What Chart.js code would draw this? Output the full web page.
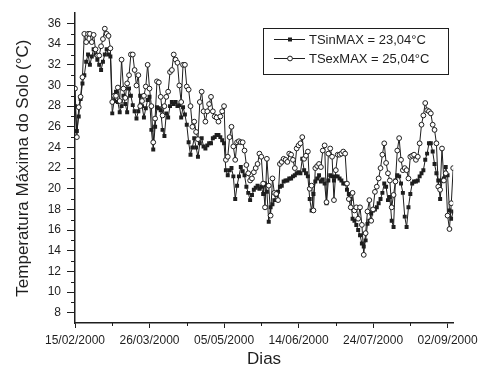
<!DOCTYPE html>
<html>
<head>
<meta charset="utf-8">
<script src="https://cdn.jsdelivr.net/npm/chart.js@4.4.1/dist/chart.umd.min.js"></script>
<style>
  html, body { margin: 0; padding: 0; background: #fff; }
</style>
</head>
<body>
<canvas id="graphic" width="483" height="368"></canvas>
<script>
  // axis ticks (day 0 = 15/02/2000)
  const tickDays = [0, 40, 80, 120, 160, 200];
  const tickLabels = ["15/02/2000", "26/03/2000", "05/05/2000", "14/06/2000", "24/07/2000", "02/09/2000"];
  const minorDays = [20, 60, 100, 140, 180];
  const yTicks = [8, 10, 12, 14, 16, 18, 20, 22, 24, 26, 28, 30, 32, 34, 36];

  const seriesNames = ["TSinMAX = 23,04°C", "TSexMAX = 25,04°C"];

  // daily max soil temperature, one value per day
  const tsinMax = [
    28.0, 25.6, 27.0, 28.7, 30.2, 31.0, 32.3, 33.0, 32.0, 32.8,
    33.5, 33.0, 32.5, 32.0, 31.5, 32.3, 33.0, 33.5, 33.0, 32.8,
    27.3, 28.5, 29.4, 28.4, 27.4, 28.0, 29.0, 28.2, 27.4, 29.7,
    29.0, 28.1, 27.5, 26.8, 27.5, 29.0, 28.0, 26.9, 27.8, 28.6,
    28.9, 25.7, 23.8, 26.0, 27.9, 27.8, 27.6, 25.7, 25.1, 27.3,
    26.9, 28.0, 28.4, 28.2, 28.4, 28.0, 28.1, 26.9, 27.9, 27.2,
    26.2, 24.5, 23.3, 24.0, 24.9, 24.0, 23.1, 24.4, 24.9, 24.1,
    23.9, 24.2, 24.4, 24.4, 24.9, 25.0, 25.2, 25.2, 25.0, 24.7,
    24.4, 21.8, 21.3, 21.8, 22.0, 21.2, 19.0, 20.3, 21.2, 22.1,
    21.7, 21.3, 20.2, 19.6, 18.9, 19.4, 19.9, 20.1, 20.3, 20.0,
    20.2, 19.5, 20.5, 19.7, 16.8, 18.2, 18.5, 18.9, 19.4, 19.7,
    20.2, 20.3, 20.7, 20.8, 20.8, 21.0, 21.0, 21.2, 21.3, 21.5,
    21.6, 21.5, 22.9, 21.8, 21.5, 21.2, 19.0, 17.9, 19.5, 20.7,
    21.0, 21.3, 20.7, 20.9, 20.5, 18.6, 20.8, 21.3, 21.2, 20.8,
    21.2, 21.2, 21.0, 20.8, 20.5, 20.5, 19.9, 19.5, 19.0, 17.1,
    16.9, 16.5, 16.0, 15.5, 14.7, 14.4, 15.0, 16.6, 16.9, 17.6,
    17.9, 18.0, 18.2, 18.6, 19.0, 19.6, 20.5, 20.2, 18.9, 19.2,
    16.9, 16.3, 20.8, 21.3, 21.2, 20.5, 19.6, 17.3, 16.3, 18.2,
    19.5, 20.5, 20.7, 20.7, 20.8, 21.2, 21.5, 21.8, 22.8, 23.4,
    24.4, 24.4, 23.6, 22.4, 21.5, 20.8, 19.0, 20.8, 21.0, 22.1,
    21.3, 17.9, 17.1, 17.8
  ];
  const tsexMax = [
    29.7, 25.0, 27.9, 28.9, 30.8, 35.0, 34.2, 35.0, 35.0, 34.2,
    34.9, 33.5, 32.9, 32.9, 33.8, 34.5, 35.5, 35.0, 34.8, 33.6,
    28.4, 29.0, 29.0, 29.8, 28.5, 32.5, 29.7, 28.8, 30.2, 31.0,
    33.0, 33.0, 31.5, 30.0, 31.0, 28.0, 28.5, 29.0, 29.9, 32.0,
    29.7, 28.0, 24.5, 26.8, 30.4, 30.3, 28.9, 27.1, 28.0, 28.9,
    29.4, 31.3, 31.5, 33.0, 32.5, 32.2, 30.0, 28.4, 32.0, 32.0,
    29.9, 29.6, 28.0, 26.0, 26.5, 25.5, 24.8, 28.4, 29.4, 27.5,
    26.5, 27.5, 28.2, 28.9, 27.5, 27.0, 26.9, 26.5, 27.0, 27.5,
    28.0, 22.8, 23.1, 25.0, 26.0, 24.1, 22.8, 24.5, 24.6, 24.5,
    24.5, 23.7, 22.3, 21.5, 20.8, 21.0, 21.6, 22.0, 22.4, 23.4,
    23.1, 20.5, 18.2, 22.9, 20.3, 17.4, 21.0, 19.6, 19.5, 18.9,
    22.4, 22.6, 22.9, 22.8, 22.6, 23.4, 23.3, 22.8, 22.0, 23.9,
    24.2, 24.4, 25.0, 22.9, 23.2, 23.6, 20.0, 20.3, 17.9, 22.0,
    22.2, 22.4, 22.1, 23.7, 24.2, 18.7, 23.4, 23.9, 23.1, 18.9,
    21.8, 23.3, 23.3, 23.4, 23.6, 23.4, 20.5, 19.0, 18.2, 19.6,
    17.9, 18.2, 17.1, 18.2, 16.5, 13.6, 15.7, 17.8, 18.9, 16.9,
    18.0, 19.7, 20.2, 21.0, 22.0, 23.3, 24.4, 22.5, 21.5, 20.8,
    18.2, 19.4, 20.7, 23.7, 24.9, 22.8, 21.8, 22.0, 21.8, 21.0,
    23.1, 23.2, 23.3, 22.8, 23.1, 24.4, 26.2, 27.1, 28.3, 27.6,
    27.5, 27.3, 26.2, 25.7, 24.4, 20.2, 19.9, 23.9, 20.8, 21.5,
    17.4, 16.1, 18.6, 22.0
  ];

  const ink = "#1e1e1e";
  const fontFam = "'Liberation Sans', Arial, sans-serif";

  function toPoints(values) {
    return values.map((v, i) => ({ x: i, y: v }));
  }

  // minor ticks + framed legend inside the plot
  const extras = {
    id: "extras",
    afterDraw(chart) {
      const ctx = chart.ctx;
      const xs = chart.scales.x, ys = chart.scales.y;
      ctx.save();
      ctx.strokeStyle = ink;
      ctx.lineWidth = 1;
      ctx.beginPath();
      for (let v = 9; v <= 35; v += 2) {
        const py = Math.round(ys.getPixelForValue(v)) + 0.5;
        ctx.moveTo(xs.left - 4, py);
        ctx.lineTo(xs.left, py);
      }
      minorDays.forEach(d => {
        const px = Math.round(xs.getPixelForValue(d)) + 0.5;
        ctx.moveTo(px, ys.bottom);
        ctx.lineTo(px, ys.bottom + 3);
      });
      ctx.stroke();

      // legend box
      const bx = 263, by = 28, bw = 185, bh = 46;
      ctx.fillStyle = "#fff";
      ctx.fillRect(bx, by, bw, bh);
      ctx.strokeRect(bx + 0.5, by + 0.5, bw, bh);
      ctx.font = "13px " + fontFam;
      ctx.textBaseline = "middle";
      const rows = [39, 58];
      chart.data.datasets.forEach((ds, i) => {
        const ry = rows[i] + 0.5;
        ctx.strokeStyle = ink;
        ctx.beginPath();
        ctx.moveTo(274, ry);
        ctx.lineTo(305, ry);
        ctx.stroke();
        ctx.fillStyle = ds.pointBackgroundColor;
        ctx.strokeStyle = ds.pointBorderColor;
        ctx.beginPath();
        if (ds.pointStyle === "rect") {
          ctx.rect(288, ry - 2, 4, 4);
          ctx.fill();
        } else {
          ctx.arc(290, ry, ds.pointRadius, 0, Math.PI * 2);
          ctx.fill();
          ctx.stroke();
        }
        ctx.fillStyle = ink;
        ctx.fillText(ds.label, 309, rows[i] + 1);
      });
      ctx.restore();
    }
  };

  var ctx = document.getElementById("graphic").getContext("2d");
  var chart = new Chart(ctx, {
    type: "line",
    data: {
      datasets: [
        {
          label: seriesNames[0],
          data: toPoints(tsinMax),
          borderColor: ink,
          borderWidth: 1,
          pointStyle: "rect",
          pointRadius: 2.8,
          pointBackgroundColor: ink,
          pointBorderColor: ink,
          pointBorderWidth: 0,
          tension: 0,
          order: 1
        },
        {
          label: seriesNames[1],
          data: toPoints(tsexMax),
          borderColor: ink,
          borderWidth: 1,
          pointStyle: "circle",
          pointRadius: 2.4,
          pointBackgroundColor: "#fff",
          pointBorderColor: ink,
          pointBorderWidth: 1,
          tension: 0,
          order: 0
        }
      ]
    },
    options: {
      responsive: false,
      animation: false,
      devicePixelRatio: 1,
      layout: { padding: { top: 13, right: 26, left: 0, bottom: 0 } },
      plugins: { legend: { display: false }, tooltip: { enabled: false } },
      scales: {
        x: {
          type: "linear",
          min: 0,
          max: 203,
          afterBuildTicks: s => { s.ticks = tickDays.map(v => ({ value: v })); },
          afterFit: s => { s.height = 45; },
          ticks: {
            callback: (v, i) => tickLabels[i],
            font: { family: fontFam, size: 12 },
            color: ink,
            padding: 5,
            maxRotation: 0,
            autoSkip: false
          },
          grid: { drawOnChartArea: false, drawTicks: true, tickLength: 5, color: ink, lineWidth: 1 },
          border: { display: true, color: ink, width: 1.5 },
          title: {
            display: true, text: "Dias", color: ink,
            font: { family: fontFam, size: 17, lineHeight: 1 },
            padding: { top: 0, bottom: 0 }
          }
        },
        y: {
          min: 7,
          max: 37,
          afterBuildTicks: s => { s.ticks = yTicks.map(v => ({ value: v })); },
          afterFit: s => { s.width = 75; },
          ticks: {
            font: { family: fontFam, size: 12 },
            color: ink,
            padding: 6
          },
          grid: { drawOnChartArea: false, drawTicks: true, tickLength: 8, color: ink, lineWidth: 1 },
          border: { display: true, color: ink, width: 1.5 },
          title: {
            display: true, text: "Temperatura Máxima do Solo (°C)", color: ink,
            font: { family: fontFam, size: 17, lineHeight: 1 },
            padding: { top: 15, bottom: 0 }
          }
        }
      }
    },
    plugins: [extras]
  });
</script>
</body>
</html>
